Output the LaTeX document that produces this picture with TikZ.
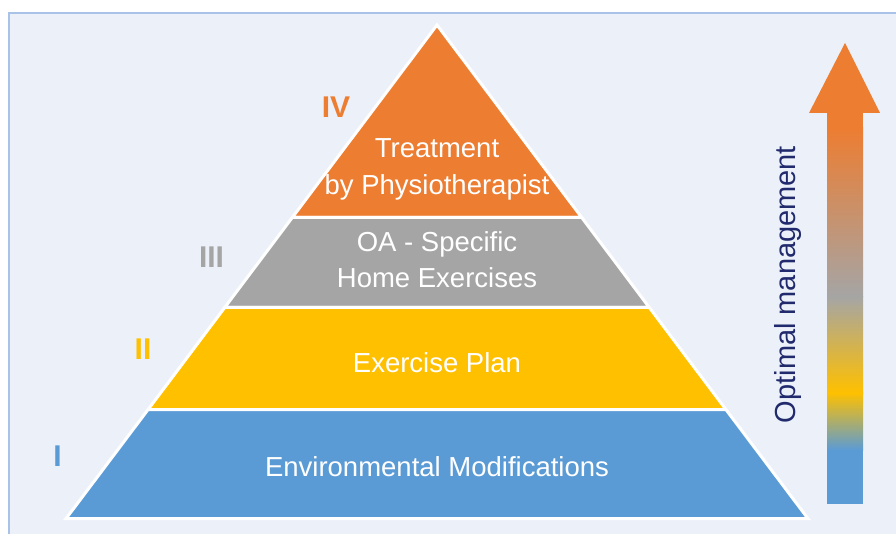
\documentclass[tikz,border=0pt]{standalone}
\usepackage{fontspec}
\setmainfont{Liberation Sans}
\definecolor{bgpanel}{HTML}{ECF0F9}
\definecolor{panelborder}{HTML}{A9C2E7}
\definecolor{orangeA}{HTML}{ED7D31}
\definecolor{grayA}{HTML}{A5A5A5}
\definecolor{yellowA}{HTML}{FFC000}
\definecolor{blueA}{HTML}{5B9BD5}
\definecolor{navyA}{HTML}{202A6C}
\begin{document}
\begin{tikzpicture}[x=1pt,y=-1pt,
  band/.style={draw=white, line width=3pt, line join=miter},
  bandtext/.style={text=white, font=\fontsize{27.5}{33}\selectfont, anchor=base, inner sep=0pt},
  levelnum/.style={font=\fontsize{30}{36}\selectfont\bfseries, inner sep=0pt},
]
\useasboundingbox (0,0) rectangle (896,534);
\fill[white] (0,0) rectangle (896,534);
\begin{scope}
  \clip (0,0) rectangle (896,534);
  \fill[bgpanel] (9,13) rectangle (900,540);
  \draw[panelborder, line width=2.5pt] (9,540) -- (9,13) -- (900,13);
\end{scope}

% pyramid bands
\draw[band, fill=orangeA] (437,25) -- (581.7,217.5) -- (292.3,217.5) -- cycle;
\draw[band, fill=grayA] (292.3,217.5) -- (581.7,217.5) -- (649.3,307.5) -- (224.7,307.5) -- cycle;
\draw[band, fill=yellowA] (224.7,307.5) -- (649.3,307.5) -- (725.9,409.5) -- (148.1,409.5) -- cycle;
\draw[band, fill=blueA] (148.1,409.5) -- (725.9,409.5) -- (807.9,518.5) -- (66.1,518.5) -- cycle;

% band texts
\node[bandtext] (t4a) at (437,158) {Treatment};
\node[bandtext] (t4b) at (437,195) {by Physiotherapist};
\node[bandtext] (t3a) at (437,252) {OA - Specific};
\node[bandtext] (t3b) at (437,288) {Home Exercises};
\node[bandtext] (t2) at (437,372) {Exercise Plan};
\node[bandtext] (t1) at (437,476) {Environmental Modifications};

% level numerals
\node[levelnum, text=orangeA] (n4) at (336,107.5) {IV};
\node[levelnum, text=grayA] (n3) at (211.5,257) {III};
\node[levelnum, text=yellowA] (n2) at (143,349.5) {II};
\node[levelnum, text=blueA] (n1) at (57.5,456) {I};

% gradient arrow
\fill[blueA] (827,504) rectangle (863,449.5);
\shade[bottom color=blueA, top color=yellowA] (827,450) rectangle (863,392.5);
\shade[bottom color=yellowA, top color=grayA] (827,393) rectangle (863,296.5);
\shade[bottom color=grayA, top color=orangeA] (827,297) rectangle (863,127.5);
\fill[orangeA] (827,128) rectangle (863,112);
\fill[orangeA] (809,113) -- (845,43) -- (880,113) -- cycle;

\node[rotate=90, anchor=base, text=navyA, font=\fontsize{29}{34}\selectfont, inner sep=0pt] (lbl) at (795,284.5) {Optimal management};
\end{tikzpicture}
\end{document}
